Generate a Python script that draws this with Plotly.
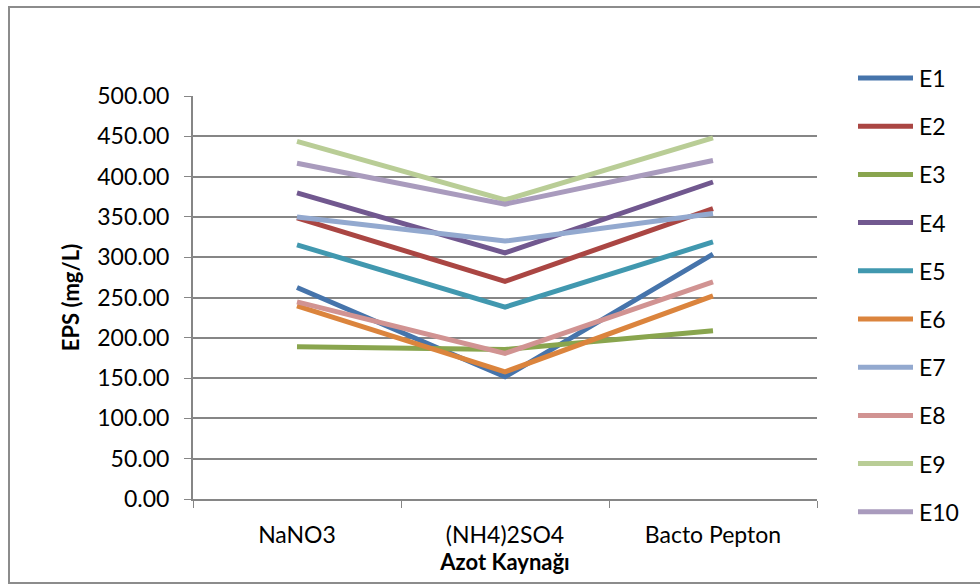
import plotly.graph_objects as go

# Nitrogen sources on the x axis
categories = ["NaNO3", "(NH4)2SO4", "Bacto Pepton"]

# EPS yield (mg/L) for each strain across the three nitrogen sources
E1 = [262.4, 151.6, 303.7]
E2 = [348.8, 270.0, 360.4]
E3 = [188.8, 185.5, 208.7]
E4 = [379.8, 305.4, 393.3]
E5 = [315.4, 238.0, 318.9]
E6 = [239.6, 157.8, 252.0]
E7 = [350.0, 320.0, 354.2]
E8 = [244.5, 180.6, 269.4]
E9 = [443.8, 371.0, 448.0]
E10 = [416.6, 365.8, 420.0]

series_names = ["E1", "E2", "E3", "E4", "E5", "E6", "E7", "E8", "E9", "E10"]
series_values = [E1, E2, E3, E4, E5, E6, E7, E8, E9, E10]
series_colors = ["#4674AB", "#AA4643", "#89A54E", "#71588F", "#4198AF",
                 "#DB843D", "#93A9CF", "#D19392", "#B9CD96", "#A99BBD"]

y_ticks = [0, 50, 100, 150, 200, 250, 300, 350, 400, 450, 500]

FONT = "Lato, Carlito, Calibri, sans-serif"
AXIS_GRAY = "#868686"
LINE_W = 5
TICK_SIZE = 23

fig = go.Figure()
for name, vals, col in zip(series_names, series_values, series_colors):
    fig.add_trace(go.Scatter(
        x=categories, y=vals, name=name, mode="lines",
        line=dict(color=col, width=LINE_W),
        showlegend=False,
    ))

# plot-area geometry in pixels
W, H = 980, 584
L, R, T, B = 193, 163, 96, 85
pw, ph = W - L - R, H - T - B

def px_x(p):
    return (p - L) / pw

def px_y(p):
    return (H - B - p) / ph

# outer chart frame
shapes = [dict(
    type="rect", xref="paper", yref="paper",
    x0=px_x(9), x1=px_x(990), y0=px_y(583), y1=px_y(7),
    line=dict(color="#8c8c8c", width=2), fillcolor="rgba(0,0,0,0)", layer="below",
)]
annotations = []

# legend column on the right: a line sample and the series name per row
LEG_TOP, LEG_STEP = 78, 48.2
LEG_X0, LEG_X1, LEG_TX = 858, 913, 917
for i, (name, col) in enumerate(zip(series_names, series_colors)):
    yy = px_y(LEG_TOP + LEG_STEP * i)
    shapes.append(dict(
        type="line", xref="paper", yref="paper",
        x0=px_x(LEG_X0), x1=px_x(LEG_X1), y0=yy, y1=yy,
        line=dict(color=col, width=LINE_W),
    ))
    annotations.append(dict(
        xref="paper", yref="paper", x=px_x(LEG_TX), y=yy,
        xanchor="left", yanchor="middle", text=name, showarrow=False,
        font=dict(family=FONT, size=TICK_SIZE, color="black"),
    ))

fig.update_layout(
    width=W, height=H,
    margin=dict(l=L, r=R, t=T, b=B, pad=0),
    paper_bgcolor="white", plot_bgcolor="white",
    font=dict(family=FONT, size=22, color="black"),
    showlegend=False,
    xaxis=dict(
        type="category", range=[-0.5, 2.5],
        showgrid=False, showline=True, linecolor=AXIS_GRAY, linewidth=2,
        ticks="outside", tickson="boundaries", ticklen=7, tickcolor=AXIS_GRAY, tickwidth=1,
        ticklabelstandoff=14,
        tickfont=dict(family=FONT, size=TICK_SIZE, color="black"),
        title=dict(text="<b>Azot Kaynağı</b>", font=dict(family=FONT, size=22, color="black"), standoff=6),
    ),
    yaxis=dict(
        range=[0, 500], tickvals=y_ticks,
        ticktext=[f"{v:.2f}" for v in y_ticks],
        showgrid=True, gridcolor=AXIS_GRAY, gridwidth=2,
        showline=True, linecolor=AXIS_GRAY, linewidth=2,
        ticks="outside", ticklen=7, tickcolor=AXIS_GRAY, tickwidth=1,
        ticklabelstandoff=10,
        tickfont=dict(family=FONT, size=TICK_SIZE, color="black"),
        zeroline=False,
        title=dict(text="<b>EPS (mg/L)</b>", font=dict(family=FONT, size=22, color="black"), standoff=12),
    ),
    shapes=shapes,
    annotations=annotations,
)

fig.write_html("out.html")
